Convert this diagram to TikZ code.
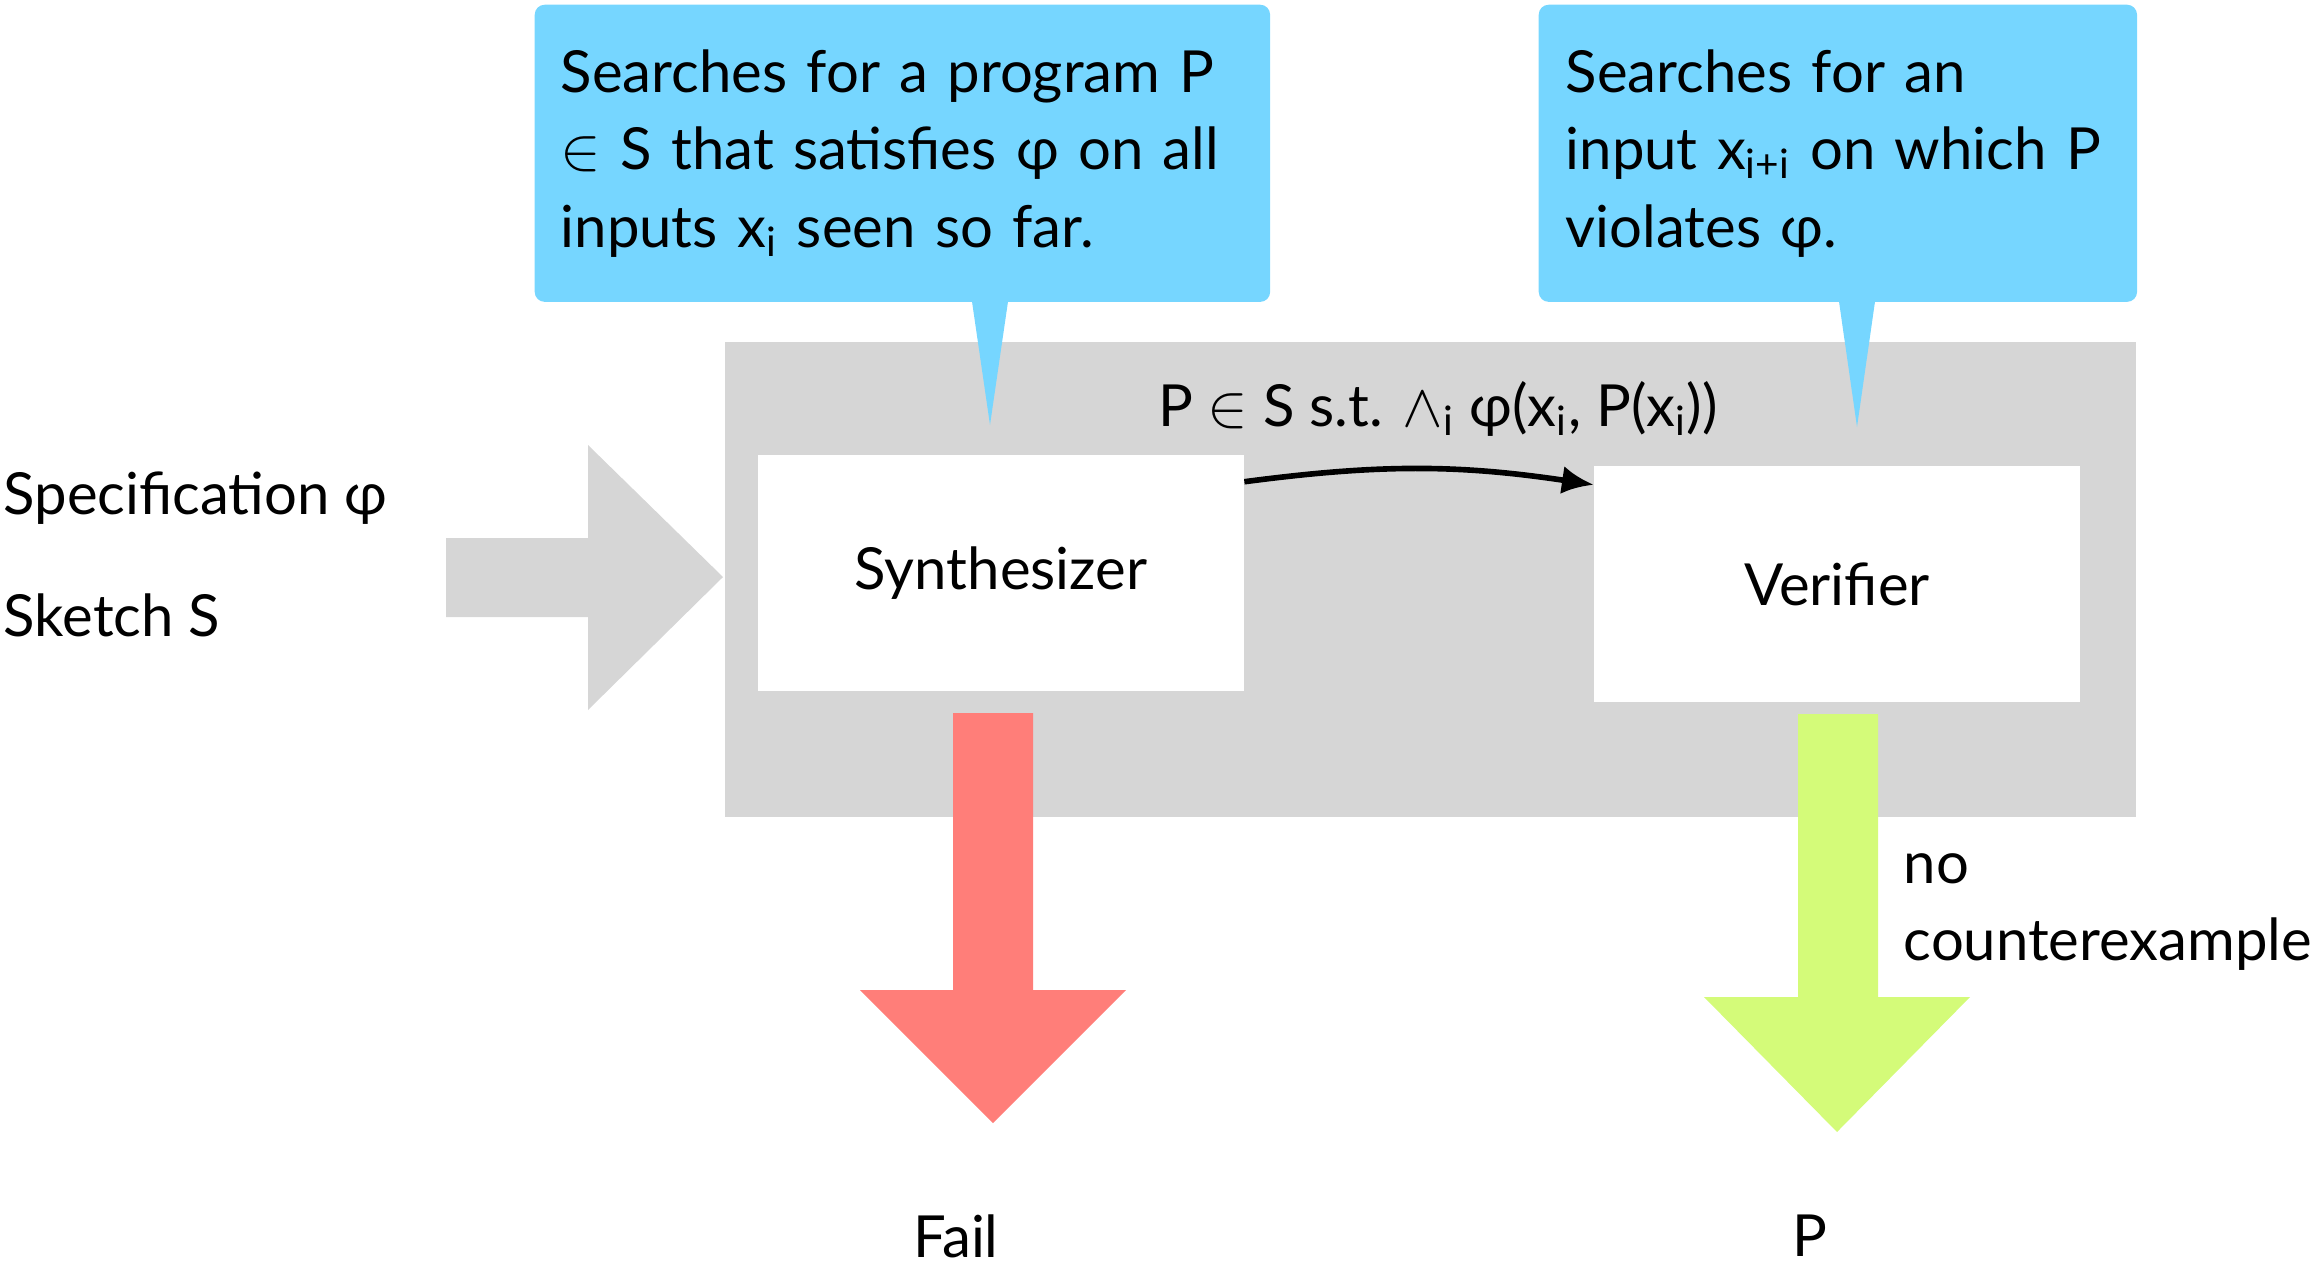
\documentclass[tikz,border=0pt]{standalone}
\usepackage{fontspec}
\setmainfont{Lato}
\usepackage{tikz}
\usetikzlibrary{positioning, calc, arrows.meta}

\definecolor{sky}{HTML}{76D6FF}
\definecolor{silver}{HTML}{D6D6D6}
\definecolor{salmon}{HTML}{FF7E79}
\definecolor{honeydew}{HTML}{D4FB79}

\begin{document}
\begin{tikzpicture}[x=0.01cm, y=-0.01cm,
	every node/.style={font=\fontsize{16.5}{22}\selectfont},
	callout/.style={fill=sky, rounded corners=0.1cm, align=left, inner sep=0pt, anchor=north west},
	block/.style={fill=white, minimum width=4.85cm, minimum height=2.35cm, inner sep=0pt}]
	\useasboundingbox (0,0) rectangle (2324,1272);

	% grey loop frame
	\fill[silver] (725,342) rectangle (2136,817);

	% input arrow
	\fill[silver] (446,538) -- (588,538) -- (588,445) -- (723,577) -- (588,710) -- (588,617) -- (446,617) -- cycle;
	\node [anchor=west, inner xsep=0pt] (spec) at (3,498) {Specification φ};
	\node [anchor=west, inner xsep=0pt] (sketch) at (3,615) {Sketch S};

	% synthesizer and verifier
	\node [block] (synth) at (1001,573) {Synthesizer};
	\node [block] (verif) at (1837,584) {Verifier};
	\node (cand) at (1438,409) {P $\in$ S s.t. $\wedge$\textsubscript{i} φ(x\textsubscript{i}, P(x\textsubscript{i}))};
	\draw [line width=1.6pt, -{Latex[length=9pt, width=8pt]}] ($(synth.north east)+(0,27)$) to[bend left=8] ($(verif.north west)+(0,19)$);

	% callouts
	\node [callout, minimum width=7.35cm, minimum height=2.97cm, text width=6.83cm, inner xsep=0.26cm] (lcall) at (534,4)
		{Searches for a program P\\ $\in$ S that satisfies φ on all\\ inputs x\textsubscript{i} seen so far.};
	\coordinate (ltip) at (990,425);
	\fill[sky] ($(ltip |- lcall.south)+(-18,-1)$) -- (ltip) -- ($(ltip |- lcall.south)+(18,-1)$) -- cycle;

	\node [callout, minimum width=5.98cm, minimum height=2.97cm, text width=5.44cm, inner xsep=0.27cm] (rcall) at (1538,4)
		{Searches for an\\ input x\textsubscript{i+i} on which P\\ violates φ.};
	\coordinate (rtip) at (1857,427);
	\fill[sky] ($(rtip |- rcall.south)+(-18,-1)$) -- (rtip) -- ($(rtip |- rcall.south)+(18,-1)$) -- cycle;

	% outputs
	\fill[salmon] (953,713) -- (953,990) -- (860,990) -- (993,1123) -- (1126,990) -- (1033,990) -- (1033,713) -- cycle;
	\node (fail) at (956,1236) {Fail};

	\fill[honeydew] (1798,714) -- (1798,997) -- (1704,997) -- (1837,1132) -- (1970,997) -- (1878,997) -- (1878,714) -- cycle;
	\node [anchor=west, align=left, inner xsep=0pt] (nocex) at (1903,912) {no\\ counterexample};
	\node (prog) at (1810,1236) {P};
\end{tikzpicture}
\end{document}
